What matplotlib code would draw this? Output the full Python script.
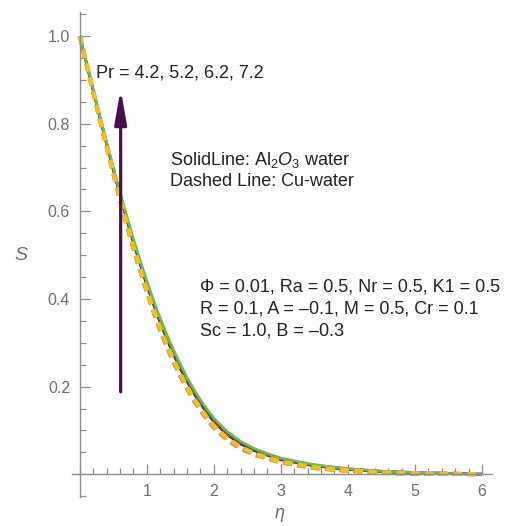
import matplotlib
matplotlib.use('Agg')
import matplotlib.pyplot as plt
from matplotlib.ticker import MultipleLocator, FixedLocator

plt.rcParams['font.family'] = ['Liberation Sans', 'DejaVu Sans']
plt.rcParams['mathtext.fontset'] = 'custom'
plt.rcParams['mathtext.rm'] = 'Liberation Sans'
plt.rcParams['mathtext.it'] = 'Liberation Sans:italic'

# data
eta = [0, 0.1, 0.2, 0.3, 0.4, 0.5, 0.6, 0.7, 0.8, 0.9, 1.0, 1.1, 1.2, 1.3, 1.4, 1.5,
       1.6, 1.7, 1.8, 1.9, 2.0, 2.2, 2.4, 2.6, 2.8, 3.0, 3.25, 3.5, 3.75, 4.0,
       4.5, 5.0, 5.5, 6.0]
pr_values = ['4.2', '5.2', '6.2', '7.2']

# solid lines: Al2O3-water
s_solid_42 = [1.000, 0.938, 0.876, 0.814, 0.754, 0.695, 0.637, 0.582, 0.529, 0.480, 0.432, 0.388,
              0.346, 0.308, 0.273, 0.241, 0.212, 0.185, 0.161, 0.140, 0.120, 0.090, 0.069, 0.054,
              0.043, 0.033, 0.026, 0.019, 0.015, 0.011, 0.006, 0.003, 0.002, 0.000]
s_solid_52 = [1.000, 0.938, 0.877, 0.815, 0.755, 0.697, 0.639, 0.584, 0.532, 0.483, 0.435, 0.391,
              0.349, 0.311, 0.276, 0.244, 0.215, 0.188, 0.164, 0.143, 0.123, 0.092, 0.071, 0.056,
              0.044, 0.034, 0.027, 0.020, 0.016, 0.012, 0.006, 0.003, 0.002, 0.000]
s_solid_62 = [1.000, 0.939, 0.877, 0.816, 0.757, 0.698, 0.641, 0.587, 0.534, 0.485, 0.438, 0.394,
              0.353, 0.315, 0.280, 0.248, 0.218, 0.191, 0.167, 0.145, 0.125, 0.095, 0.073, 0.057,
              0.046, 0.036, 0.028, 0.021, 0.016, 0.012, 0.007, 0.004, 0.002, 0.000]
s_solid_72 = [1.000, 0.939, 0.878, 0.817, 0.758, 0.700, 0.643, 0.589, 0.537, 0.488, 0.441, 0.397,
              0.356, 0.318, 0.283, 0.251, 0.221, 0.194, 0.170, 0.148, 0.128, 0.097, 0.075, 0.059,
              0.047, 0.037, 0.029, 0.022, 0.017, 0.013, 0.007, 0.004, 0.002, 0.000]

# dashed lines: Cu-water
s_dash_42 = [1.000, 0.936, 0.873, 0.809, 0.748, 0.687, 0.626, 0.570, 0.515, 0.465, 0.416, 0.371,
             0.328, 0.290, 0.255, 0.224, 0.195, 0.169, 0.146, 0.125, 0.106, 0.078, 0.058, 0.045,
             0.036, 0.027, 0.020, 0.014, 0.011, 0.008, 0.003, 0.001, 0.001, 0.000]
s_dash_52 = [1.000, 0.937, 0.873, 0.810, 0.748, 0.688, 0.628, 0.571, 0.517, 0.467, 0.417, 0.372,
             0.330, 0.292, 0.257, 0.226, 0.196, 0.170, 0.147, 0.127, 0.108, 0.079, 0.060, 0.046,
             0.036, 0.027, 0.021, 0.015, 0.011, 0.008, 0.004, 0.002, 0.001, 0.000]
s_dash_62 = [1.000, 0.937, 0.874, 0.810, 0.749, 0.689, 0.629, 0.573, 0.518, 0.468, 0.419, 0.374,
             0.332, 0.294, 0.259, 0.228, 0.198, 0.172, 0.149, 0.128, 0.109, 0.081, 0.061, 0.047,
             0.037, 0.028, 0.021, 0.015, 0.012, 0.009, 0.004, 0.002, 0.001, 0.000]
s_dash_72 = [1.000, 0.937, 0.874, 0.811, 0.750, 0.690, 0.630, 0.574, 0.520, 0.470, 0.421, 0.376,
             0.334, 0.296, 0.261, 0.230, 0.200, 0.174, 0.151, 0.130, 0.111, 0.082, 0.062, 0.048,
             0.038, 0.029, 0.022, 0.016, 0.012, 0.009, 0.004, 0.002, 0.001, 0.000]

solid_series = [s_solid_42, s_solid_52, s_solid_62, s_solid_72]
dash_series = [s_dash_42, s_dash_52, s_dash_62, s_dash_72]
solid_colors = ['#1a1a1a', '#d62020', '#3a4fb0', '#6cbf3c']
dash_colors = ['#8f88b0', '#b89a8a', '#e8a040', '#f5c018']

fig = plt.figure(figsize=(5.16, 5.26), dpi=100)
ax = fig.add_axes([0.139, 0.0551, 0.8145, 0.9221])

for s, c in zip(solid_series, solid_colors):
    ax.plot(eta, s, color=c, lw=1.9, solid_capstyle='butt', solid_joinstyle='round')
for s, c in zip(dash_series, dash_colors):
    ax.plot(eta, s, color=c, lw=3.0, dashes=(2.0, 1.4), dash_capstyle='butt')

ax.set_xlim(-0.12, 6.15)
ax.set_ylim(-0.052, 1.055)

axis_gray = '#8a8a8a'
for side in ['top', 'right']:
    ax.spines[side].set_visible(False)
ax.spines['left'].set_position(('data', 0))
ax.spines['bottom'].set_position(('data', 0))
for side in ['left', 'bottom']:
    ax.spines[side].set_color(axis_gray)
    ax.spines[side].set_linewidth(1.0)

ax.xaxis.set_major_locator(FixedLocator([1, 2, 3, 4, 5, 6]))
ax.xaxis.set_minor_locator(MultipleLocator(0.2))
ax.yaxis.set_major_locator(FixedLocator([0.2, 0.4, 0.6, 0.8, 1.0]))
ax.yaxis.set_minor_locator(MultipleLocator(0.05))
ax.tick_params(which='both', direction='in', color=axis_gray, width=0.9,
               labelcolor='#6e6e6e', labelsize=11.5)
ax.tick_params(which='major', length=7, pad=7)
ax.tick_params(which='minor', length=4)

# arrow showing increasing Pr
ax.annotate('', xy=(0.61, 0.879), xytext=(0.61, 0.188),
            arrowprops=dict(arrowstyle='-|>,head_length=1.7,head_width=0.3',
                            mutation_scale=12, color='#4a0e4e', lw=2.3,
                            shrinkA=0, shrinkB=0))

txt = '#222222'
fs = 13
ax.text(0.245, 0.915, 'Pr = ' + ', '.join(pr_values), fontsize=fs, color=txt, va='center')
ax.text(1.347, 0.717, r'SolidLine: Al$_2$$\mathit{O}_3$ water', fontsize=fs, color=txt, va='center')
ax.text(1.347, 0.667, 'Dashed Line: Cu-water', fontsize=fs, color=txt, va='center')
ax.text(1.793, 0.428, 'Φ = 0.01, Ra = 0.5, Nr = 0.5, K1 = 0.5', fontsize=fs, color=txt, va='center')
ax.text(1.793, 0.377, 'R = 0.1, A = –0.1, M = 0.5, Cr = 0.1', fontsize=fs, color=txt, va='center')
ax.text(1.793, 0.326, 'Sc = 1.0, B = –0.3', fontsize=fs, color=txt, va='center')

fig.text(21 / 516, 1 - 255 / 526, 'S', fontsize=14, style='italic', color='#6e6e6e', ha='center', va='center')
fig.text(280 / 516, 1 - 514 / 526, 'η', fontsize=13, style='italic', color='#6e6e6e', ha='center', va='center')

fig.savefig('out.png', dpi=100)
